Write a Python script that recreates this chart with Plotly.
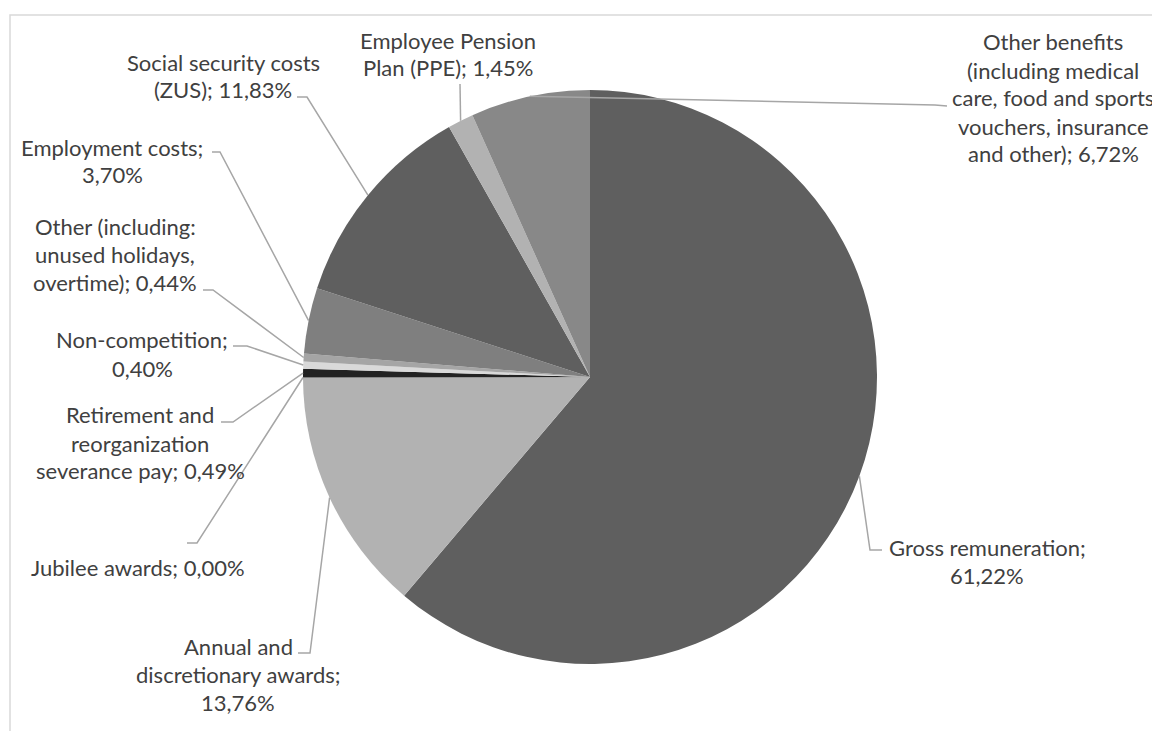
import math
import textwrap
import plotly.graph_objects as go

# ---------------- data ----------------
categories = [
    "Gross remuneration",
    "Annual and discretionary awards",
    "Jubilee awards",
    "Retirement and reorganization severance pay",
    "Non-competition",
    "Other (including: unused holidays, overtime)",
    "Employment costs",
    "Social security costs (ZUS)",
    "Employee Pension Plan (PPE)",
    "Other benefits (including medical care, food and sports vouchers, insurance and other)",
]
shares = [61.22, 13.76, 0.00, 0.49, 0.40, 0.44, 3.70, 11.83, 1.45, 6.72]
colors = ["#5f5f5f", "#b2b2b2", "#dddddd", "#222222", "#d9d9d9",
          "#a5a5a5", "#7f7f7f", "#5f5f5f", "#b2b2b2", "#888888"]

# ---------------- layout / styling ----------------
W, H = 1152, 731
CX, CY, R = 590, 377, 287           # pie centre & radius in pixels
FONT = "Lato, 'Open Sans', sans-serif"
FSIZE = 22
LINE_H = 28
TEXT_COL = "#404040"
LEAD_COL = "#a6a6a6"

# label wrapping width (characters), label block centre, leader elbow / anchor
wrap_w = [20, 21, 30, 20, 16, 17, 17, 21, 17, 21]
label_center = [(987, 561), (238, 674), (138, 567), (140, 443), (142, 354),
                (115, 254), (112, 161), (223, 76), (448, 54), (1053, 98)]
leader_elbow = [(870, 550), (310, 653), (197, 543), (233, 422), (247, 346),
                (213, 290), (220, 152), (307, 97), (460, 84), (935, 105)]
leader_end = [(882, 550), (298, 653), (187, 543), (221, 422), (233, 346),
              (203, 290), (212, 152), (297, 97), (460, 84), (947, 106)]


def px(x):
    return x / W


def py(y):
    return 1 - y / H


fig = go.Figure()
fig.add_trace(go.Pie(
    labels=categories,
    values=shares,
    sort=False,
    direction="clockwise",
    rotation=0,
    marker=dict(colors=colors, line=dict(width=0)),
    textinfo="none",
    hoverinfo="label+percent",
    showlegend=False,
    domain=dict(x=[px(CX - R), px(CX + R)], y=[py(CY + R), py(CY - R)]),
))

total = sum(shares)
shapes = []
annotations = []
cum = 0.0
for i, (cat, val) in enumerate(zip(categories, shares)):
    mid = (cum + val / 2) / total * 2 * math.pi
    cum += val
    ex = CX + R * math.sin(mid)
    ey = CY - R * math.cos(mid)
    bx, by = leader_elbow[i]
    ax, ay = leader_end[i]
    shapes.append(dict(
        type="path", xref="paper", yref="paper",
        path=f"M {px(ex)},{py(ey)} L {px(bx)},{py(by)} L {px(ax)},{py(ay)}",
        line=dict(color=LEAD_COL, width=1.5),
    ))
    full = f"{cat}; {val:.2f}".replace(".", ",") + "%"
    lines = textwrap.wrap(full, width=wrap_w[i], break_on_hyphens=False)
    lx, ly = label_center[i]
    n = len(lines)
    for k, line in enumerate(lines):
        yy = ly + (k - (n - 1) / 2) * LINE_H
        annotations.append(dict(
            x=px(lx), y=py(yy), xref="paper", yref="paper",
            text=line, showarrow=False, xanchor="center", yanchor="middle",
            font=dict(family=FONT, size=FSIZE, color=TEXT_COL),
        ))

# chart-area border (extends beyond the visible window on right and bottom)
shapes.append(dict(type="rect", xref="paper", yref="paper",
                   x0=px(10), x1=px(W + 20), y0=py(15), y1=py(H + 20),
                   line=dict(color="#d9d9d9", width=1.5)))

fig.update_layout(
    width=W, height=H,
    margin=dict(l=0, r=0, t=0, b=0),
    paper_bgcolor="white", plot_bgcolor="white",
    shapes=shapes, annotations=annotations,
)
fig.write_html("out.html")
